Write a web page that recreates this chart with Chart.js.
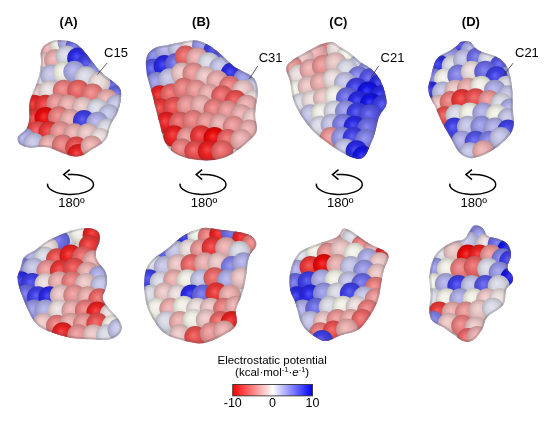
<!DOCTYPE html>
<html>
<head>
<meta charset="utf-8">
<script src="https://cdn.jsdelivr.net/npm/chart.js@4.4.0/dist/chart.umd.min.js"></script>
<style>
  body { margin: 0; background: #fff; }
  #wrap { width: 550px; height: 423px; }
</style>
</head>
<body>
<div id="wrap"><canvas id="fig" width="550" height="423"></canvas></div>
<script>
// labels
const panelLabels = ['(A)', '(B)', '(C)', '(D)'];
const siteLabels = ['C15', 'C31', 'C21', 'C21'];
const rotationLabel = '180º';
const cbTitle = 'Electrostatic potential';
const cbUnit = [
  { t: '(kcal·mol' }, { t: '-1', sup: true }, { t: '·' },
  { t: 'e', it: true }, { t: '-1', sup: true }, { t: ')' }
];
const cbTicks = [-10, 0, 10];

// surface outlines, [x, y] in figure units
const topA_outline = [[30,40],[40,32],[50,30],[67,33],[77,43],[93,65],[110,77],[116,85],[112,107],[103,120],[100,137],[83,147],[70,155],[53,150],[37,142],[20,145],[8,141],[6,132],[17,125],[20,110],[18,97],[27,77],[32,57]];
const topB_outline = [[140,47],[150,38],[163,36],[180,32],[193,30],[207,36],[220,47],[233,60],[247,66],[255,72],[258,85],[253,110],[258,127],[247,138],[233,150],[217,157],[197,158],[173,153],[160,141],[156,123],[150,100],[146,83],[141,67]];
const topC_outline = [[335,32],[341,37],[352,43],[365,55],[375,60],[385,72],[390,87],[392,100],[383,110],[380,127],[375,140],[368,156],[357,156],[342,148],[328,138],[315,128],[302,111],[293,93],[291,73],[285,60],[292,52],[308,43],[322,35]];
const topD_outline = [[468,32],[478,32],[482,37],[488,43],[505,47],[515,55],[520,67],[523,87],[522,103],[525,123],[515,137],[502,147],[488,154],[475,156],[465,148],[458,133],[448,117],[442,100],[433,85],[438,67],[442,50],[455,43],[465,37]];
const botA_outline = [[33,245],[53,235],[73,228],[90,230],[94,240],[87,255],[90,265],[100,275],[100,292],[94,302],[100,312],[113,325],[117,338],[103,348],[83,346],[67,346],[47,341],[27,333],[17,315],[5,283],[10,272],[13,258],[27,252]];
const botB_outline = [[177,238],[187,233],[200,228],[213,230],[227,232],[240,233],[253,238],[257,248],[247,258],[245,282],[240,302],[233,315],[237,332],[220,343],[200,352],[180,348],[160,342],[147,325],[140,308],[138,282],[143,265],[157,255],[167,248]];
const botC_outline = [[345,228],[355,232],[365,240],[375,247],[388,252],[395,258],[388,272],[385,292],[382,308],[372,325],[362,338],[342,342],[328,350],[315,343],[302,332],[297,308],[290,295],[290,275],[298,255],[312,248],[328,243],[342,238]];
const botD_outline = [[482,225],[492,228],[495,238],[508,240],[518,245],[522,258],[515,272],[523,278],[523,287],[515,292],[515,308],[508,315],[495,322],[492,335],[482,348],[472,350],[462,342],[448,332],[438,328],[435,315],[438,298],[435,282],[438,265],[445,252],[462,242],[472,242],[478,232]];

// surface patches, [x, y, potential]
const topA_pot = [[40,40,-3],[52,35,0],[60,33,3],[68,38,6],
  [35,55,-2],[46,52,-3],[58,48,1],[70,50,9],[80,57,8],[90,63,5],[100,72,4],[108,79,7],[112,90,6],
  [30,70,1],[42,68,2],[55,65,0],[66,64,3],[78,70,1],[92,76,-1],
  [26,88,-2],[40,85,-1],[55,84,-5],[70,84,-6],[85,88,-5],[100,94,-3],[110,100,2],
  [24,100,-9],[36,100,-8],[48,98,-4],[60,100,-3],[75,102,-2],[90,104,1],[102,110,2],
  [24,115,-8],[36,113,-10],[50,112,-5],[62,115,-3],[76,116,8],[90,118,3],[100,125,1],
  [28,128,-7],[40,128,-8],[52,128,-4],[66,130,-3],[80,130,-2],[93,135,-1],
  [14,135,3],[24,140,2],[40,142,-3],[54,142,-5],[68,144,-7],[70,152,-9],[84,143,-3]];
const topB_pot = [[150,48,5],[162,42,3],[175,40,2],[188,36,-1],[200,36,4],[212,42,8],[222,50,7],
  [148,62,7],[160,58,9],[172,56,6],[182,48,-6],[194,50,-3],[206,55,1],[218,60,2],[230,66,9],[243,72,4],[252,82,2],
  [152,76,4],[165,72,2],[178,66,-2],[190,66,-4],[203,70,-2],[215,74,-3],[228,80,-5],[242,84,-2],[252,95,-1],
  [155,90,-9],[167,88,-6],[180,82,-5],[193,84,-4],[206,88,-3],[220,90,-6],[234,95,-7],[246,100,-3],
  [156,104,-8],[170,102,-7],[184,100,-4],[198,100,-3],[212,104,-5],[226,106,-4],[240,110,-3],[252,114,-2],
  [162,118,-9],[176,118,-6],[190,116,-5],[204,118,-4],[218,120,-3],[232,122,-4],[248,126,-3],
  [170,132,-9],[184,134,-4],[198,132,-8],[212,134,-10],[226,136,-6],[240,136,-3],
  [178,146,-5],[192,148,-7],[206,148,-9],[220,148,-6]];
const topC_pot = [[330,37,-6],[340,40,-1],[318,45,-3],[304,50,-2],[292,58,-4],
  [350,48,0],[362,58,2],[372,64,4],
  [300,68,-1],[312,62,-3],[325,58,-4],[338,55,-2],[350,62,1],[362,70,5],[374,72,7],[384,78,9],
  [298,84,0],[310,80,-2],[323,76,-3],[336,72,-1],[348,76,2],[360,82,8],[372,86,10],[386,90,9],
  [302,98,1],[314,95,-1],[326,92,-2],[338,90,0],[350,92,6],[362,96,9],[375,98,10],[388,100,8],
  [312,110,2],[324,108,0],[337,106,1],[349,106,4],[361,108,8],[374,110,7],
  [322,122,1],[334,120,2],[346,120,5],[358,122,9],[372,124,6],
  [333,134,-4],[345,134,4],[357,134,8],[370,136,5],
  [348,146,2],[360,148,9],[367,154,10]];
const topD_pot = [[470,37,8],[480,42,3],[456,48,4],[446,58,9],[460,58,1],[472,52,2],[486,50,6],[498,52,1],[510,58,7],[518,70,3],
  [440,72,5],[452,72,0],[466,68,5],[480,64,-1],[494,64,6],[506,70,8],[516,80,1],
  [438,86,9],[450,86,2],[463,84,-2],[476,82,-3],[490,80,0],[504,84,3],[518,90,2],
  [446,100,-2],[458,96,-5],[470,94,-8],[484,93,-7],[498,95,-4],[511,98,1],[520,104,3],
  [452,112,-7],[464,110,1],[478,108,0],[492,108,3],[506,110,0],[518,114,2],
  [462,124,8],[476,122,2],[490,122,4],[504,124,3],[518,126,8],
  [470,138,3],[484,138,7],[498,138,5],[510,134,2],
  [478,150,2],[492,148,-3]];
const botA_pot = [[58,240,1],[72,234,0],[86,236,-9],[82,248,-8],[50,243,6],[38,250,-1],
  [22,258,3],[35,260,1],[48,262,-7],[62,258,-9],[75,260,-6],[86,264,-3],
  [12,272,5],[24,272,2],[38,274,-4],[52,274,-8],[66,272,-7],[80,276,-3],[92,280,3],
  [10,286,9],[22,288,8],[36,288,-1],[50,286,-3],[64,286,-5],[78,288,-2],[94,290,2],
  [16,300,6],[28,302,8],[40,302,9],[52,300,-2],[66,300,-4],[80,302,-3],[92,304,-6],
  [24,316,4],[36,316,3],[50,316,-1],[64,316,-3],[78,316,-5],[90,318,-9],[104,320,-1],
  [34,330,-2],[48,332,-5],[62,330,-3],[76,330,-4],[90,330,-7],[106,332,0],
  [54,340,-9],[70,342,-4],[86,342,-2],[100,342,1],[112,336,2]];
const botB_pot = [[182,240,9],[195,236,0],[206,238,-5],[218,236,-9],[230,234,6],[242,240,-9],[252,246,-5],
  [160,256,7],[172,254,2],[186,252,-1],[198,252,-4],[210,250,-8],[224,250,-3],[238,254,1],
  [148,268,1],[160,270,2],[174,268,-2],[188,268,-6],[202,266,-3],[216,266,-2],[230,270,5],[242,266,3],
  [144,284,8],[156,286,1],[170,284,-3],[184,284,0],[198,284,2],[212,282,-6],[226,284,3],[240,282,-2],
  [146,300,1],[160,298,-2],[174,300,-1],[188,300,9],[200,300,6],[214,298,-8],[228,300,-3],
  [152,314,0],[166,314,-3],[180,312,0],[194,314,-1],[208,314,-2],[222,314,-5],[234,312,-3],
  [162,328,1],[176,328,-3],[190,326,0],[204,326,-2],[218,328,-6],[230,328,-9],
  [176,342,-2],[192,344,-7],[208,340,-4],[222,338,-3]];
const botC_pot = [[345,234,-2],[356,240,1],[334,244,-3],[366,248,-5],[379,252,-3],[390,258,-9],
  [304,260,1],[318,254,0],[330,256,-4],[344,252,-2],[358,256,0],[372,262,3],[384,266,-2],
  [298,274,3],[312,270,-8],[326,268,-10],[340,268,-3],[354,270,2],[368,274,4],[382,278,-2],
  [296,288,6],[310,286,8],[324,284,3],[338,284,0],[352,286,2],[366,288,6],[380,292,-5],
  [298,302,9],[312,300,9],[326,298,4],[340,298,1],[354,298,8],[368,302,2],[380,304,-4],
  [304,316,3],[318,314,6],[332,312,1],[346,312,0],[360,312,-1],[372,316,-5],
  [312,328,2],[326,328,-2],[340,326,-4],[354,326,-3],[366,326,-6],
  [322,340,-5],[336,338,-7],[350,336,-3],[324,348,8]];
const botD_pot = [[484,230,6],[490,238,4],[476,244,2],[496,246,-1],[508,246,6],[518,252,10],
  [450,258,1],[462,254,-2],[476,258,-10],[488,258,-9],[500,258,-4],[512,262,5],[520,264,8],
  [442,272,4],[455,272,0],[469,272,-5],[483,270,-6],[497,272,1],[509,276,4],[521,282,10],
  [440,288,0],[453,288,3],[466,290,8],[480,290,2],[494,290,7],[508,290,1],
  [440,304,1],[454,304,0],[468,304,3],[482,304,0],[496,304,-2],[509,304,-1],
  [446,318,-8],[460,318,-3],[474,318,-4],[488,316,-2],[502,314,1],
  [440,328,5],[456,330,-2],[470,332,-5],[484,334,-2],[476,346,-6],[486,344,-3]];

const R = 11;
const FONT = '"Liberation Sans", Arial, sans-serif';

// -10 red .. 0 white .. 10 blue
function potRGB(v) {
  const t = Math.max(-1, Math.min(1, v / 10));
  if (t < 0) return [240, 240 * (1 + t) + 10, 240 * (1 + t) + 10];
  return [225 * (1 - t) + 20, 225 * (1 - t) + 20, 235];
}
function shade(c, k, w) {
  return 'rgb(' + c.map(x => Math.round((x * k) * (1 - w) + 255 * w)).join(',') + ')';
}

function sphereFill(c) {
  if (!c.raw) return 'rgba(0,0,0,0)';
  const col = potRGB(c.raw.v);
  const ch = c.chart;
  const px = ch.scales.x ? ch.scales.x.getPixelForValue(c.raw.x) : NaN;
  const py = ch.scales.y ? ch.scales.y.getPixelForValue(c.raw.y) : NaN;
  if (!isFinite(px) || !isFinite(py)) return shade(col, 0.95, 0);
  const g = ch.ctx.createRadialGradient(px - 2, py - 2, 0, px, py, R);
  g.addColorStop(0, shade(col, 1, 0.18));
  g.addColorStop(0.5, shade(col, 0.96, 0));
  g.addColorStop(0.85, shade(col, 0.86, 0));
  g.addColorStop(1, shade(col, 0.8, 0));
  return g;
}

function blob(outline, pot) {
  return {
    type: 'bubble',
    outline: outline,
    data: pot.map(p => ({ x: p[0], y: p[1], v: p[2] })),
    radius: R,
    hoverRadius: 0,
    borderWidth: 0,
    backgroundColor: sphereFill
  };
}

// rounded closed path through the outline midpoints
function tracePath(chart, pts) {
  const ctx = chart.ctx, xs = chart.scales.x, ys = chart.scales.y;
  const p = pts.map(q => [xs.getPixelForValue(q[0]), ys.getPixelForValue(q[1])]);
  const n = p.length;
  const mid = (a, b) => [(a[0] + b[0]) / 2, (a[1] + b[1]) / 2];
  ctx.beginPath();
  const m0 = mid(p[n - 1], p[0]);
  ctx.moveTo(m0[0], m0[1]);
  for (let i = 0; i < n; i++) {
    const m = mid(p[i], p[(i + 1) % n]);
    ctx.quadraticCurveTo(p[i][0], p[i][1], m[0], m[1]);
  }
  ctx.closePath();
}

const surfacePlugin = {
  id: 'surface',
  beforeDatasetDraw(chart, args) {
    const ds = chart.data.datasets[args.index];
    const ctx = chart.ctx;
    ctx.save();
    tracePath(chart, ds.outline);
    ctx.fillStyle = 'rgb(214,206,208)';
    ctx.fill();
    ctx.clip();
  },
  afterDatasetDraw(chart, args) {
    const ds = chart.data.datasets[args.index];
    const ctx = chart.ctx;
    tracePath(chart, ds.outline);
    ctx.lineWidth = 4;
    ctx.strokeStyle = 'rgba(90,90,100,0.25)';
    ctx.stroke();
    ctx.restore();
  }
};

const annotPlugin = {
  id: 'annot',
  afterDraw(chart) {
    const ctx = chart.ctx, xs = chart.scales.x, ys = chart.scales.y;
    const X = v => xs.getPixelForValue(v), Y = v => ys.getPixelForValue(v);
    ctx.save();
    ctx.fillStyle = '#000';
    ctx.strokeStyle = '#000';
    ctx.textBaseline = 'middle';

    // panel letters
    const colX = [60, 198, 341, 479];
    ctx.font = 'bold 13px ' + FONT;
    ctx.textAlign = 'center';
    panelLabels.forEach((t, i) => ctx.fillText(t, X(colX[i]), Y(12)));

    // cysteine labels with leader lines
    const lab = [[97, 45], [258, 50], [385, 50], [525, 45]];
    const lead = [[100, 55, 90, 67], [257, 58, 248, 72], [383, 58, 375, 70], [523, 55, 513, 68]];
    ctx.font = '13px ' + FONT;
    ctx.textAlign = 'left';
    siteLabels.forEach((t, i) => {
      ctx.fillText(t, X(lab[i][0]), Y(lab[i][1]));
      const l = lead[i];
      ctx.lineWidth = 0.8;
      ctx.strokeStyle = '#333';
      ctx.beginPath();
      ctx.moveTo(X(l[0]), Y(l[1]));
      ctx.lineTo(X(l[2]), Y(l[3]));
      ctx.stroke();
    });

    // rotation arrows
    const arrX = [62, 200, 342, 481];
    ctx.strokeStyle = '#000';
    ctx.lineWidth = 1.5;
    arrX.forEach(cx => {
      const px = X(cx), py = Y(183), rx = 23, ry = 10;
      const a0 = Math.PI * 185 / 180, a1 = -Math.PI * 97 / 180;
      ctx.beginPath();
      ctx.ellipse(px, py, rx, ry, 0, a0, a1, true);
      ctx.stroke();
      const tx = px + rx * Math.cos(a1) - 4, ty = py + ry * Math.sin(a1);
      ctx.beginPath();
      ctx.moveTo(tx + 6, ty - 5);
      ctx.lineTo(tx, ty);
      ctx.lineTo(tx + 6, ty + 5);
      ctx.stroke();
    });
    ctx.font = '13px ' + FONT;
    ctx.textAlign = 'center';
    arrX.forEach(cx => ctx.fillText(rotationLabel, X(cx + 1), Y(203)));

    // colour bar
    const bx0 = X(231), bx1 = X(314), by0 = Y(394), by1 = Y(406);
    const g = ctx.createLinearGradient(bx0, 0, bx1, 0);
    g.addColorStop(0, 'rgb(255,0,0)');
    g.addColorStop(0.5, 'rgb(255,255,255)');
    g.addColorStop(1, 'rgb(0,0,255)');
    ctx.fillStyle = g;
    ctx.fillRect(bx0, by0, bx1 - bx0, by1 - by0);
    ctx.lineWidth = 0.8;
    ctx.strokeStyle = '#222';
    ctx.strokeRect(bx0, by0, bx1 - bx0, by1 - by0);

    ctx.fillStyle = '#000';
    ctx.font = '12.5px ' + FONT;
    const tmin = cbTicks[0], tmax = cbTicks[cbTicks.length - 1];
    cbTicks.forEach(v => {
      const x = bx0 + (v - tmin) / (tmax - tmin) * (bx1 - bx0);
      ctx.fillText(String(v), x, Y(414));
    });

    ctx.font = '11.5px ' + FONT;
    ctx.fillText(cbTitle, X(272), Y(369));

    // unit line with superscripts
    const fontFor = s => s.sup ? '7.5px ' + FONT : (s.it ? 'italic 11.5px ' + FONT : '11.5px ' + FONT);
    let total = 0;
    cbUnit.forEach(s => { ctx.font = fontFor(s); total += ctx.measureText(s.t).width; });
    let x = X(272) - total / 2;
    ctx.textAlign = 'left';
    cbUnit.forEach(s => {
      ctx.font = fontFor(s);
      ctx.fillText(s.t, x, Y(s.sup ? 379 : 382));
      x += ctx.measureText(s.t).width;
    });
    ctx.restore();
  }
};

new Chart(document.getElementById('fig'), {
  type: 'bubble',
  data: {
    datasets: [
      blob(topA_outline, topA_pot), blob(topB_outline, topB_pot),
      blob(topC_outline, topC_pot), blob(topD_outline, topD_pot),
      blob(botA_outline, botA_pot), blob(botB_outline, botB_pot),
      blob(botC_outline, botC_pot), blob(botD_outline, botD_pot)
    ]
  },
  options: {
    responsive: false,
    animation: false,
    events: [],
    layout: { padding: 0 },
    plugins: { legend: { display: false }, tooltip: { enabled: false } },
    scales: {
      x: { type: 'linear', min: 0, max: 550, display: false },
      y: { type: 'linear', min: 0, max: 423, reverse: true, display: false }
    }
  },
  plugins: [surfacePlugin, annotPlugin]
});
</script>
</body>
</html>
